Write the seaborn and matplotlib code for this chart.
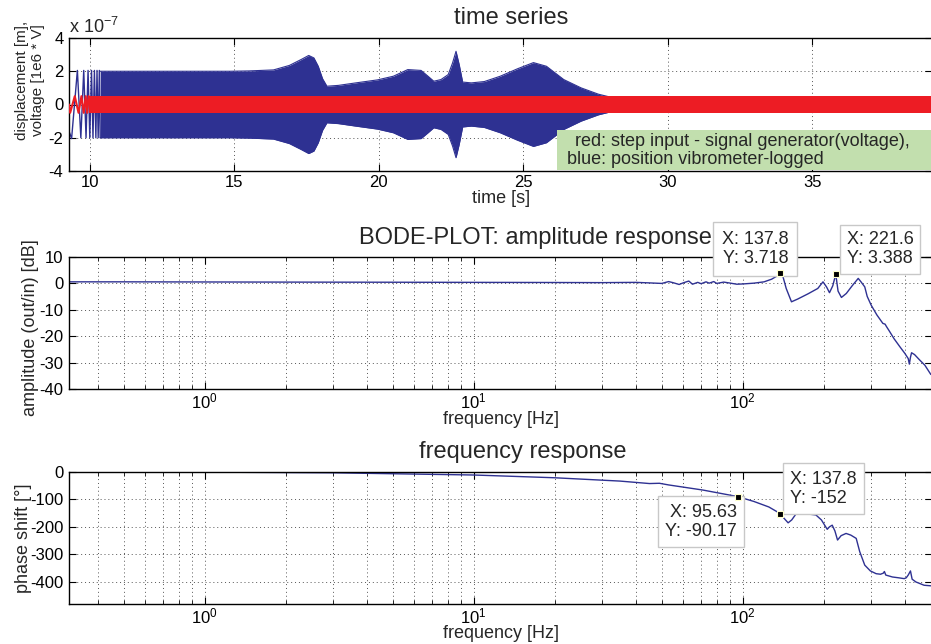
import numpy as np
import pandas as pd
import matplotlib
matplotlib.use("Agg")
import matplotlib.pyplot as plt
import seaborn as sns
from matplotlib.patches import Rectangle
from matplotlib.ticker import LogLocator, NullFormatter

# ---------------- data ----------------
# envelope of the logged displacement (units of 1e-7 m)
env_time = [10.35, 11.0, 12.0, 13.0, 14.0, 14.86, 15.5, 16.35, 16.9, 17.3, 17.57, 17.75, 17.9,
            18.05, 18.2, 18.6, 19.2, 19.95, 20.5, 21.0, 21.46, 21.7, 21.9, 22.15, 22.4,
            22.55, 22.67, 22.78, 22.9, 23.2, 23.65, 24.2, 24.8, 25.35, 25.8, 26.4,
            27.0, 27.6, 28.0, 29.0, 31.0, 35.0, 39.2]
env_amp = [2.0, 2.0, 2.0, 2.0, 2.0, 2.0, 2.02, 2.08, 2.35, 2.7, 2.95, 2.8, 2.3,
           1.55, 1.1, 1.15, 1.3, 1.48, 1.7, 2.1, 2.05, 1.7, 1.4, 1.5, 1.8,
           2.5, 3.2, 2.4, 1.35, 1.3, 1.38, 1.7, 2.15, 2.52, 2.3, 1.5,
           1.0, 0.62, 0.45, 0.35, 0.3, 0.25, 0.2]
# first slow oscillations of the displacement (extremes)
chirp_time = [9.27, 9.36, 9.56, 9.68, 9.78, 9.86, 9.93, 9.99, 10.05, 10.1, 10.15, 10.2, 10.24, 10.28, 10.32, 10.35]
chirp_disp = [-1.6, -2.05, 2.05, -2.0, 2.05, -2.0, 2.05, -2.0, 2.05, -2.0, 2.05, -2.0, 2.05, -2.0, 2.05, -2.0]
# first slow oscillations of the input voltage
input_time = [9.27, 9.31, 9.47, 9.6, 9.7, 9.78, 9.85, 9.9, 9.95]
input_volt = [0.0, -0.5, 0.5, -0.5, 0.5, -0.5, 0.5, -0.5, 0.5]
input_band_time = [9.95, 39.2]
input_band_amp = 0.52

# Bode amplitude
amp_freq = [0.313, 0.5, 1, 2, 5, 10, 20, 30, 40, 45, 50, 53, 55, 58, 60, 63, 65, 68, 70, 73,
            75, 78, 80, 85, 90, 95, 100, 110, 120, 128, 134, 137.8, 141, 145, 151.7, 160,
            175, 190, 198.7, 205, 210, 216, 221.6, 226, 232.6, 242.5, 255, 268.6, 275, 284,
            290, 300, 315, 331.6, 338, 342, 350, 365, 383.4, 400, 412, 416, 420, 424, 435,
            454, 475, 500]
amp_db = [0.5, 0.5, 0.45, 0.4, 0.35, 0.3, 0.25, 0.2, 0.3, 0.1, -0.1, 0.6, 0.2, -0.5, 0.1,
          0.8, -0.4, 0.3, -0.2, 0.5, 0.0, 0.6, -0.1, 0.4, 0.0, -0.4, -0.3, 0.0, 0.5, 1.5,
          2.7, 3.718, 2.5, -2.0, -7.05, -6.0, -4.0, -2.0, 0.5, -1.5, -3.6, -1.0, 3.388, -3.0,
          -5.4, -3.9, -1.0, 1.8, 0.5, -1.4, -5.0, -8.3, -12.0, -15.2, -15.5, -16.4, -18.0,
          -21.0, -24.0, -26.5, -28.5, -30.6, -28.0, -26.3, -27.0, -29.0, -31.0, -34.5]

# Bode phase
phase_freq = [0.313, 1, 3, 10, 20, 34.9, 45, 49, 53, 71, 95.63, 110, 125, 137.8, 142, 147.4,
              152, 158.3, 170, 187, 196, 206, 210, 215, 220, 225, 232, 242, 252, 264, 272,
              284, 298, 313, 325, 333, 336, 340, 360, 380, 398, 405, 412, 420, 426, 440, 472, 500]
phase_deg = [-0.3, -1.5, -4, -12, -22, -34, -43, -42, -48, -66.5, -90.17, -108, -128, -152, -168,
             -185.5, -175, -151, -152, -157, -175, -209, -200, -194, -215, -248, -232, -224,
             -230, -242, -290, -339, -360, -370, -372, -368, -362, -375, -382, -385, -388,
             -385, -375, -360, -390, -400, -412, -414]

tip_amp_x = [137.8, 221.6]
tip_amp_y = [3.718, 3.388]
tip_phase_x = [95.63, 137.8]
tip_phase_y = [-90.17, -152]

# ---------------- style ----------------
sns.set_theme(style="ticks")
plt.rcParams['font.family'] = ['Liberation Sans', 'DejaVu Sans']
plt.rcParams['mathtext.fontset'] = 'custom'
plt.rcParams['mathtext.rm'] = 'Liberation Sans'
plt.rcParams['mathtext.it'] = 'Liberation Sans:italic'
plt.rcParams['axes.unicode_minus'] = False

BLUE = '#2e3192'
RED = '#ed1c24'
GREEN = '#c2dfae'
TICK_FS = 12
LAB_FS = 13
TITLE_FS = 17
TIP_FS = 13

fig = plt.figure(figsize=(9.31, 6.44), dpi=100)
W, H = 931.0, 644.0
ax1 = fig.add_axes([69 / W, 1 - 171 / H, 863 / W, 133 / H])
ax2 = fig.add_axes([69 / W, 1 - 389 / H, 863 / W, 132.3 / H])
ax3 = fig.add_axes([69 / W, 1 - 604 / H, 863 / W, 132.3 / H])

def style_axes(ax):
    for s in ax.spines.values():
        s.set_visible(True)
        s.set_color('black')
        s.set_linewidth(1.0)
    ax.tick_params(which='major', direction='in', top=True, right=True, length=5,
                   width=0.8, labelsize=TICK_FS, colors='black', pad=4)
    ax.tick_params(which='minor', direction='in', top=True, right=True, length=3, width=0.7)
    ax.tick_params(axis='x', which='major', pad=3)
    ax.set_facecolor('white')

# ---------------- time series ----------------
env_df = pd.DataFrame({'t': env_time, 'up': env_amp, 'lo': [-a for a in env_amp]})
ax1.fill_between(env_df['t'], env_df['lo'], env_df['up'], color=BLUE, lw=0, zorder=2)
sns.lineplot(data=env_df, x='t', y='up', ax=ax1, color=BLUE, lw=0.8, zorder=2)
sns.lineplot(data=env_df, x='t', y='lo', ax=ax1, color=BLUE, lw=0.8, zorder=2)
sns.lineplot(x=chirp_time, y=chirp_disp, ax=ax1, color=BLUE, lw=1.0, sort=False,
             estimator=None, zorder=2)
ax1.fill_between(input_band_time, [-input_band_amp] * 2, [input_band_amp] * 2,
                 color=RED, lw=0, zorder=3)
sns.lineplot(x=input_time, y=input_volt, ax=ax1, color=RED, lw=1.5, sort=False,
             estimator=None, zorder=3)
ax1.set_xlim(9.27, 39.15)
ax1.set_ylim(-4, 4)
ax1.set_xticks([10, 15, 20, 25, 30, 35])
ax1.set_yticks([-4, -2, 0, 2, 4])
ax1.grid(True, which='major', ls=(0, (1, 3)), color='#555555', lw=0.7)
ax1.set_axisbelow(True)
style_axes(ax1)
ax1.set_xlabel('time [s]', fontsize=LAB_FS)
ax1.xaxis.set_label_coords((501 - 69) / 863, (171 - 190) / 133)
ax1.set_ylabel('displacement [m],\nvoltage [1e6 * V]', fontsize=11, linespacing=1.15)
ax1.yaxis.set_label_coords((45 - 69) / 863, (171 - 80) / 133)
ax1.text((511 - 69) / 863, (171 - 18) / 133, 'time series', transform=ax1.transAxes,
         ha='center', va='center', fontsize=TITLE_FS)
ax1.text(0.0, (171 - 27) / 133, r'x 10$^{-7}$', transform=ax1.transAxes,
         ha='left', va='center', fontsize=13)
ax1.add_patch(Rectangle(((557 - 69) / 863, (171 - 170) / 133), 0.5, (170 - 130) / 133,
                        transform=ax1.transAxes, facecolor=GREEN, edgecolor='none',
                        zorder=5, clip_on=False))
ax1.text((575 - 69) / 863, (171 - 141) / 133, 'red: step input - signal generator(voltage),',
         transform=ax1.transAxes, ha='left', va='center', fontsize=13, zorder=6)
ax1.text((567 - 69) / 863, (171 - 159) / 133, 'blue: position vibrometer-logged',
         transform=ax1.transAxes, ha='left', va='center', fontsize=13, zorder=6)

# ---------------- Bode amplitude ----------------
def style_log(ax):
    ax.set_xscale('log')
    ax.set_xlim(0.313, 505)
    ax.xaxis.set_major_locator(LogLocator(base=10, numticks=10))
    ax.xaxis.set_minor_locator(LogLocator(base=10, subs=np.arange(2, 10), numticks=20))
    ax.xaxis.set_minor_formatter(NullFormatter())
    ax.grid(True, which='major', ls=(0, (1, 3)), color='#555555', lw=0.7)
    ax.grid(True, which='minor', axis='x', ls=(0, (1, 3)), color='#555555', lw=0.7)
    ax.set_axisbelow(True)
    style_axes(ax)
    ax.tick_params(axis='x', which='major', pad=2)

amp_df = pd.DataFrame({'f': amp_freq, 'db': amp_db})
sns.lineplot(data=amp_df, x='f', y='db', ax=ax2, color=BLUE, lw=1.0, estimator=None)
style_log(ax2)
ax2.set_ylim(-40, 10)
ax2.set_yticks([-40, -30, -20, -10, 0, 10])
ax2.set_xlabel('frequency [Hz]', fontsize=LAB_FS)
ax2.xaxis.set_label_coords((501 - 69) / 863, (389 - 411) / 132.3)
ax2.set_ylabel('amplitude (out/in) [dB]', fontsize=LAB_FS)
ax2.yaxis.set_label_coords((39 - 69) / 863, (389 - 328) / 132.3)
ax2.text((535 - 69) / 863, (389 - 238) / 132.3, 'BODE-PLOT: amplitude response',
         transform=ax2.transAxes, ha='center', va='center', fontsize=TITLE_FS)
sns.scatterplot(x=tip_amp_x, y=tip_amp_y, ax=ax2, marker='s', s=22, color='black',
                edgecolor='#ffffcc', linewidth=0.8, zorder=9)

# ---------------- Bode phase ----------------
ph_df = pd.DataFrame({'f': phase_freq, 'deg': phase_deg})
sns.lineplot(data=ph_df, x='f', y='deg', ax=ax3, color=BLUE, lw=1.0, estimator=None)
style_log(ax3)
ax3.set_ylim(-480, 0)
ax3.set_yticks([-400, -300, -200, -100, 0])
ax3.set_xlabel('frequency [Hz]', fontsize=LAB_FS)
ax3.xaxis.set_label_coords((501 - 69) / 863, (604 - 625) / 132.3)
ax3.set_ylabel('phase shift [°]', fontsize=LAB_FS)
ax3.yaxis.set_label_coords((32 - 69) / 863, 0.5)
ax3.text((523 - 69) / 863, (604 - 452) / 132.3, 'frequency response',
         transform=ax3.transAxes, ha='center', va='center', fontsize=TITLE_FS)
sns.scatterplot(x=tip_phase_x, y=tip_phase_y, ax=ax3, marker='s', s=22, color='black',
                edgecolor='#ffffcc', linewidth=0.8, zorder=9)

# ---------------- data tips ----------------
def tip(ax, x, y, dx, dy, ha, va, pad=0.5):
    ax.annotate(f'X: {x:g}\nY: {y:g}', xy=(x, y), xytext=(dx, dy), textcoords='offset pixels',
                ha=ha, va=va, fontsize=TIP_FS, linespacing=1.15, zorder=7,
                bbox=dict(boxstyle=f'square,pad={pad}', facecolor='white', edgecolor='#c8c8c8',
                          linewidth=1.0),
                annotation_clip=False)

tip(ax2, 137.8, 3.718, 8, 6, 'right', 'bottom')
tip(ax2, 221.6, 3.388, 11, 7, 'left', 'bottom', pad=0.35)
tip(ax3, 95.63, -90.17, -1, -7, 'right', 'top', pad=0.4)
tip(ax3, 137.8, -152, 10, 7, 'left', 'bottom', pad=0.4)

fig.savefig('out.png', dpi=100)
